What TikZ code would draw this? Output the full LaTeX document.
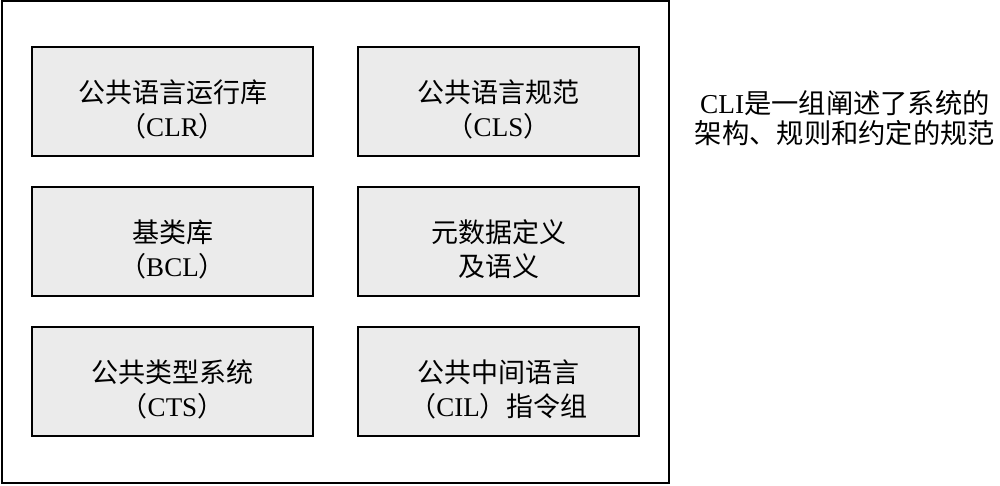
\documentclass[tikz,border=0pt]{standalone}
\usepackage{fontspec}
\setmainfont{Liberation Serif}
\newfontfamily\cjk{Noto Sans CJK SC}
\newcommand{\boxtext}[1]{\raisebox{-17pt}[0pt][0pt]{\begin{tabular}{@{}c@{}}#1\end{tabular}}}
\begin{document}
\begin{tikzpicture}[x=1pt,y=-1pt,
  part/.style={draw=black,line width=1.8pt,fill=gray!16,minimum width=281pt,minimum height=109pt,
    inner sep=0pt,font=\fontsize{27}{34}\selectfont},
  note/.style={align=center,inner sep=0pt,font=\fontsize{27.3}{30}\selectfont}]
\useasboundingbox (0,0) rectangle (1000,485);
\node[draw=black,line width=2pt,minimum width=667pt,minimum height=482pt,inner sep=0pt] (outer) at (335.5,242) {};
\node[part] (clr) at (172.5,101.5) {\boxtext{{\cjk 公共语言运行库}\\{\cjk （}CLR{\cjk ）}}};
\node[part] (cls) at (498.5,101.5) {\boxtext{{\cjk 公共语言规范}\\{\cjk （}CLS{\cjk ）}}};
\node[part] (bcl) at (172.5,241.5) {\boxtext{{\cjk 基类库}\\{\cjk （}BCL{\cjk ）}}};
\node[part] (meta) at (498.5,241.5) {\boxtext{{\cjk 元数据定义}\\{\cjk 及语义}}};
\node[part] (cts) at (172.5,381.5) {\boxtext{{\cjk 公共类型系统}\\{\cjk （}CTS{\cjk ）}}};
\node[part] (cil) at (498.5,381.5) {\boxtext{{\cjk 公共中间语言}\\{\cjk （}CIL{\cjk ）指令组}}};
\node[note] (desc) at (845,118) {CLI{\cjk 是一组阐述了系统的}\\{\cjk 架构、规则和约定的规范}};
\end{tikzpicture}
\end{document}
